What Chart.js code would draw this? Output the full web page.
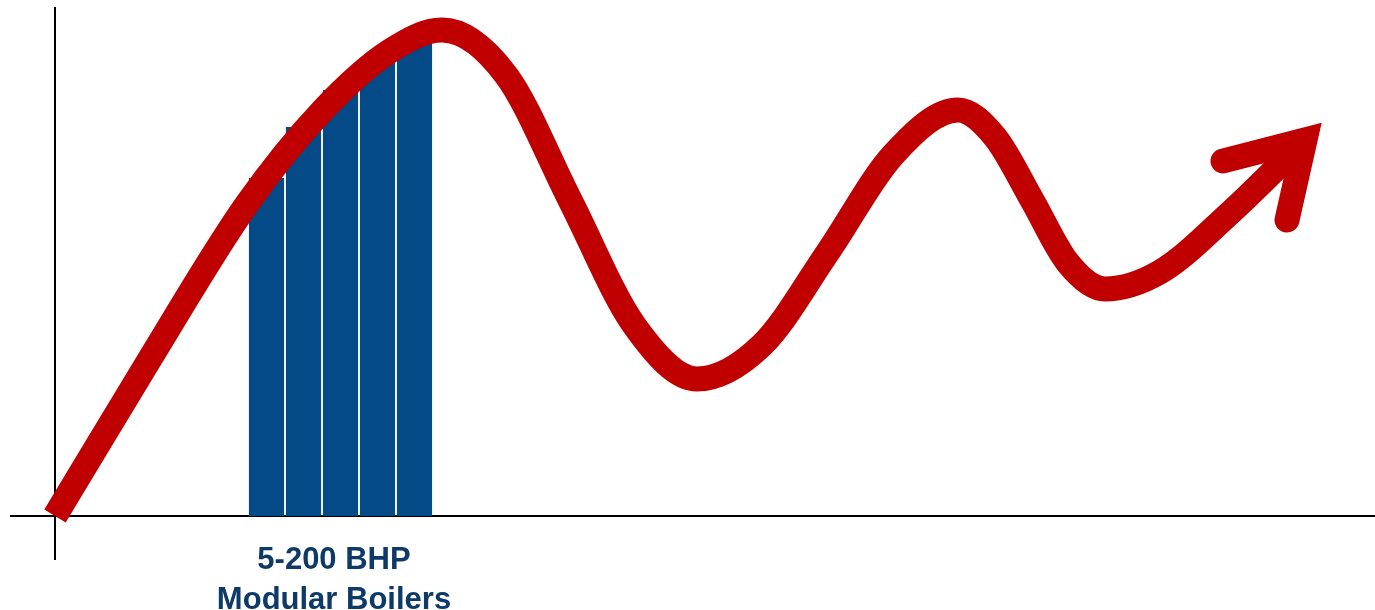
<!DOCTYPE html>
<html>
<head>
<meta charset="utf-8">
<title>5-200 BHP Modular Boilers</title>
<script src="https://cdn.jsdelivr.net/npm/chart.js@4/dist/chart.umd.min.js"></script>
<style>
  html, body { margin: 0; padding: 0; background: #ffffff; }
  #wrap { width: 1375px; height: 610px; }
</style>
</head>
<body>
<div id="wrap"><canvas id="chart" width="1375" height="610"></canvas></div>
<script>
// Demand curve: x position and height above the baseline
const curveX = [0, 93, 192, 268, 335, 387, 451, 515, 579, 642, 707, 773, 838, 903, 940, 977, 1013, 1050, 1105, 1175, 1250];
const curveY = [0, 154, 312, 406, 465, 486, 441, 316, 191, 137, 171, 264, 361, 406, 379, 316, 253, 227, 244, 303, 376];

// Arrow head at the end of the curve (wing, tip, wing)
const arrowX = [1168, 1250, 1232];
const arrowY = [355, 376, 296];

// Modular boiler range bars
const barX = [211.5, 248.5, 285.5, 322.5, 359.5];
const barY = [338, 389, 426, 455, 473];

// Axis extents
const xAxisX = [-45, 1320];
const xAxisY = [0, 0];
const yAxisX = [0, 0];
const yAxisY = [-44, 509];

// Caption under the bars
const captionLines = ['5-200 BHP', 'Modular Boilers'];

const pts = (xs, ys) => xs.map((x, i) => ({ x: x, y: ys[i] }));

const RED = '#c00000';
const BLUE = '#034a87';
const NAVY = '#0d3a66';

const captionPlugin = {
  id: 'caption',
  afterDraw(chart) {
    const ctx = chart.ctx;
    const xs = chart.scales.x, ys = chart.scales.y;
    const cx = xs.getPixelForValue(279);
    ctx.save();
    ctx.fillStyle = NAVY;
    ctx.font = 'bold 31px "Liberation Sans", Arial, Helvetica, sans-serif';
    ctx.textAlign = 'center';
    ctx.textBaseline = 'alphabetic';
    ctx.fillText(captionLines[0], cx, ys.getPixelForValue(-53));
    ctx.fillText(captionLines[1], cx, ys.getPixelForValue(-93));
    ctx.restore();
  }
};

new Chart(document.getElementById('chart'), {
  type: 'line',
  data: {
    datasets: [
      {
        type: 'line',
        data: pts(arrowX, arrowY),
        borderColor: RED,
        borderWidth: 25,
        borderCapStyle: 'round',
        borderJoinStyle: 'miter',
        tension: 0,
        pointRadius: 0,
        fill: false,
        order: 0
      },
      {
        type: 'line',
        data: pts(curveX, curveY),
        borderColor: RED,
        borderWidth: 25,
        borderCapStyle: 'butt',
        borderJoinStyle: 'round',
        cubicInterpolationMode: 'monotone',
        pointRadius: 0,
        fill: false,
        order: 1
      },
      {
        type: 'bar',
        data: pts(barX, barY),
        backgroundColor: BLUE,
        borderWidth: 0,
        categoryPercentage: 1.0,
        barPercentage: 0.95,
        order: 2
      },
      {
        type: 'line',
        data: pts(xAxisX, xAxisY),
        borderColor: '#000000',
        borderWidth: 2,
        pointRadius: 0,
        tension: 0,
        fill: false,
        order: 3
      },
      {
        type: 'line',
        data: pts(yAxisX, yAxisY),
        borderColor: '#000000',
        borderWidth: 2,
        pointRadius: 0,
        tension: 0,
        fill: false,
        order: 3
      }
    ]
  },
  options: {
    responsive: false,
    maintainAspectRatio: false,
    devicePixelRatio: 1,
    animation: false,
    layout: { padding: 0 },
    plugins: {
      legend: { display: false },
      tooltip: { enabled: false }
    },
    scales: {
      x: { type: 'linear', min: -55, max: 1320, display: false, offset: false, grid: { offset: false } },
      y: { type: 'linear', min: -94, max: 516, display: false }
    }
  },
  plugins: [captionPlugin]
});
</script>
</body>
</html>
